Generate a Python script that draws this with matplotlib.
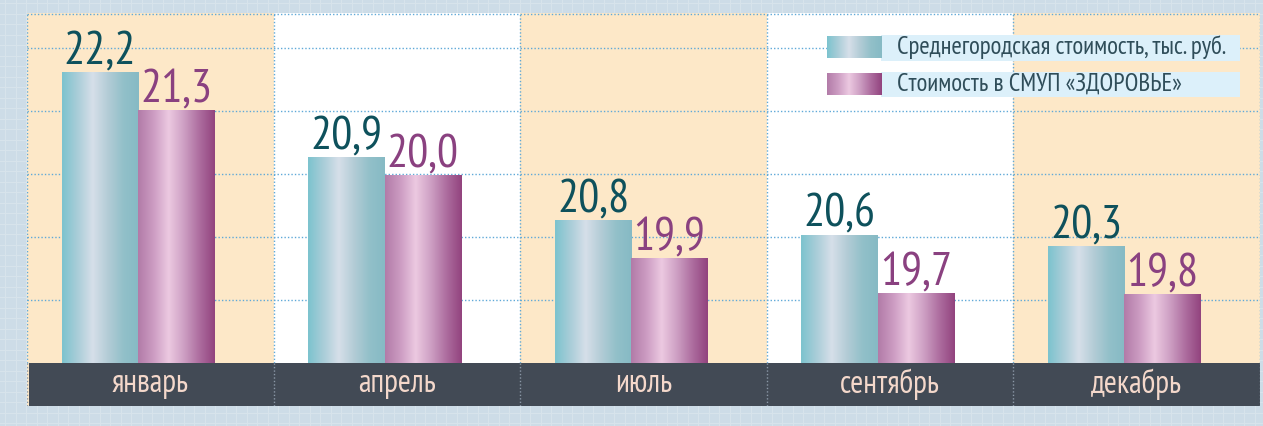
import matplotlib.pyplot as plt
import numpy as np
from matplotlib.colors import LinearSegmentedColormap
from matplotlib import font_manager

months = ['январь', 'апрель', 'июль', 'сентябрь', 'декабрь']
series_names = ['Среднегородская стоимость, тыс. руб.', 'Стоимость в СМУП «ЗДОРОВЬЕ»']
# printed values
city_values = [22.2, 20.9, 20.8, 20.6, 20.3]
clinic_values = [21.3, 20.0, 19.9, 19.7, 19.8]
# the source draws bars that do not follow the printed numbers,
# so the bar lengths are read off the picture in grid steps
city_heights = [4.62, 3.27, 2.27, 2.03, 1.86]
clinic_heights = [4.02, 2.98, 1.67, 1.11, 1.10]

# narrow face if there is one
names = {f.name for f in font_manager.fontManager.ttflist}
font = 'Liberation Sans'
for cand in ['PT Sans Narrow', 'Roboto Condensed', 'Open Sans Condensed', 'Fira Sans Condensed',
             'Liberation Sans Narrow', 'Arial Narrow', 'Ubuntu Condensed']:
    if cand in names:
        font = cand
        break
plt.rcParams['font.family'] = [font, 'DejaVu Sans']

teal = LinearSegmentedColormap.from_list('teal', ['#7cc3ce', '#a9cdd8', '#d6dfe9', '#b3ccd6', '#92c0c9', '#86bac4'])
plum = LinearSegmentedColormap.from_list('plum', ['#b27ba8', '#cc9cc2', '#ecc9e1', '#cd9fc3', '#ad6d9f', '#92437e'])
grad = np.linspace(0, 1, 256).reshape(1, -1)

fig = plt.figure(figsize=(12.63, 4.26), dpi=100)
fig.patch.set_facecolor('#cddce7')

# faint squared paper behind everything
bg = fig.add_axes([0, 0, 1, 1], zorder=-5)
bg.set_xlim(0, 1263)
bg.set_ylim(0, 426)
bg.axis('off')
for gx in np.arange(5, 1263, 10.5):
    bg.axvline(gx, color='#d7e3eb', lw=0.8)
for gy in np.arange(3, 426, 10.5):
    bg.axhline(gy, color='#d7e3eb', lw=0.8)

ax = fig.add_axes([27 / 1263, 20 / 426, 1233 / 1263, 393 / 426])
ax.axis('off')
ymin, ymax = -0.683, 5.556
x = np.arange(len(months))

for i in x:
    ax.axvspan(i - 0.5, i + 0.5, color='#fde8c8' if i % 2 == 0 else 'white', zorder=0, lw=0)
for gy in range(1, 6):
    ax.axhline(gy, color='#5fa9d8', lw=1, ls=(0, (1, 1.5)), zorder=1)
ax.axhline(ymax - 0.01, color='#5fa9d8', lw=1, ls=(0, (1, 1.5)), zorder=1)

w = 0.31
shift = -0.05
bars_a = ax.bar(x + shift - w / 2, city_heights, w, color='none', zorder=2)
bars_b = ax.bar(x + shift + w / 2, clinic_heights, w, color='none', zorder=2)
for bars, cmap in ((bars_a, teal), (bars_b, plum)):
    for p in bars:
        im = ax.imshow(grad, cmap=cmap, aspect='auto', zorder=2,
                       extent=[p.get_x(), p.get_x() + p.get_width(), 0, p.get_height()])
        im.set_clip_path(p)

value_texts = []
for bars, vals, col in ((bars_a, city_values, '#0e515c'), (bars_b, clinic_values, '#8a4180')):
    for p, v in zip(bars, vals):
        t = ax.annotate(f'{v:.1f}'.replace('.', ','), (p.get_x() + p.get_width() / 2, p.get_height()),
                        xytext=(0, 6), textcoords='offset points', ha='center', va='baseline',
                        fontsize=35, color=col, zorder=5)
        value_texts.append(t)

# dark band with month names
ax.axhspan(ymin, 0, xmin=0.002, color='#424a55', zorder=3, lw=0)
month_texts = []
for i, m in zip(x, months):
    month_texts.append(ax.text(i, ymin / 2, m, ha='center', va='center', fontsize=22,
                               color='#f4d8cb', zorder=5))

for vx in np.arange(-0.5, 5, 1.0):
    ax.plot([vx, vx], [0, ymax], color='#5fa9d8', lw=1, ls=(0, (1, 1.5)), zorder=1)
    ax.plot([vx, vx], [ymin, 0], color='#8a97a6', lw=1, ls=(0, (1, 1.5)), zorder=4)

# legend
rows = [(0.885, 0.939), (0.791, 0.845)]
legend_texts = []
for (y0, y1), cmap, name in zip(rows, (teal, plum), series_names):
    ax.add_patch(plt.Rectangle((0.693, y0 - 0.006), 0.291, y1 - y0 + 0.012, transform=ax.transAxes,
                               color='#dcf0fa', lw=0, zorder=6))
    ax.imshow(grad, cmap=cmap, aspect='auto', extent=[0.649, 0.693, y0, y1],
              transform=ax.transAxes, zorder=6)
    legend_texts.append(ax.text(0.706, (y0 + y1) / 2, name, transform=ax.transAxes, ha='left',
                                va='center', fontsize=17, color='#2f4d59', zorder=7))

ax.set_xlim(-0.5, 4.5)
ax.set_ylim(ymin, ymax)

# size the texts so they are about as wide as in the source
fig.canvas.draw()
r = fig.canvas.get_renderer()
for group, ref, width in ((value_texts, value_texts[0], 72), (month_texts, month_texts[0], 77),
                          (legend_texts, legend_texts[0], 330)):
    k = width / ref.get_window_extent(r).width
    for t in group:
        t.set_fontsize(t.get_fontsize() * k)

plt.savefig('out.png', dpi=100, facecolor=fig.get_facecolor())
